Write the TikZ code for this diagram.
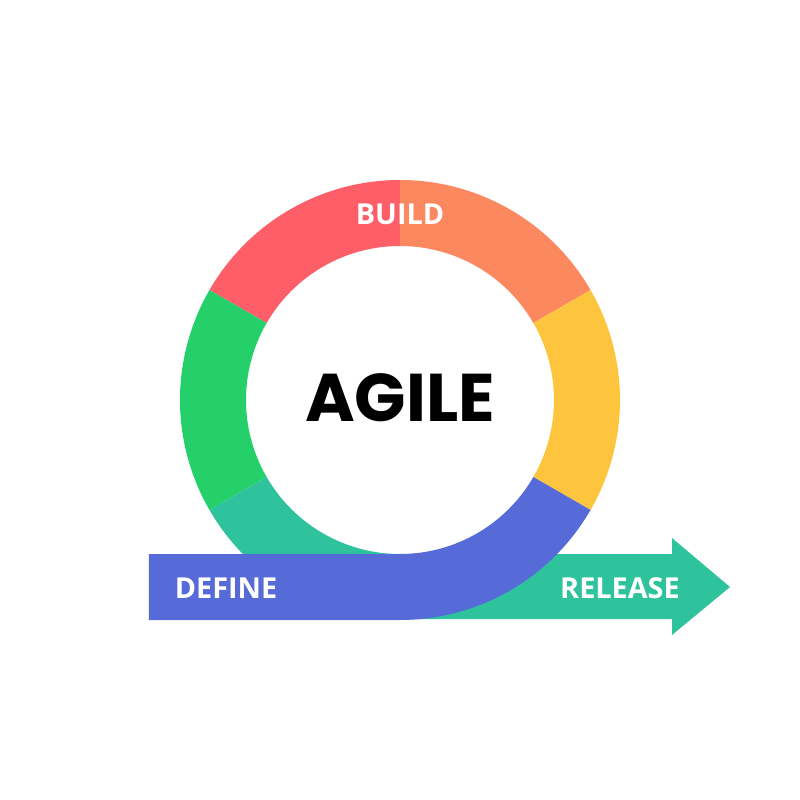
\documentclass[tikz,border=0pt]{standalone}
\usepackage{fontspec}
\setmainfont{Open Sans}
\newfontfamily\titlefont{Poppins}
\usepackage{tikz}
\usetikzlibrary{positioning}

\definecolor{buildred}{RGB}{253,94,104}
\definecolor{buildorange}{RGB}{252,136,96}
\definecolor{testyellow}{RGB}{253,196,62}
\definecolor{designgreen}{RGB}{37,208,106}
\definecolor{planteal}{RGB}{46,195,157}
\definecolor{defineblue}{RGB}{86,107,216}

\begin{document}
\begin{tikzpicture}
\tikzstyle{phase}=[text=white,font=\bfseries\fontsize{20.5}{21}\selectfont,inner sep=0pt]
\begin{scope}[scale=0.025]
\useasboundingbox (-400,-400) rectangle (400,400);

% release arrow (behind the ring)
\fill[planteal] (0,-154) -- (272,-154) -- (272,-138) -- (330,-187)
  -- (272,-235) -- (272,-219) -- (0,-219) -- cycle;

% ring segments
\fill[buildred] (90:220) arc (90:150:220) -- (150:154) arc (150:90:154) -- cycle;
\fill[buildorange] (30:220) arc (30:90:220) -- (90:154) arc (90:30:154) -- cycle;
\fill[testyellow] (-30:220) arc (-30:30:220) -- (30:154) arc (30:-30:154) -- cycle;
\fill[designgreen] (150:220) arc (150:210:220) -- (210:154) arc (210:150:154) -- cycle;
\fill[planteal] (210:220) arc (210:270:220) -- (270:154) arc (270:210:154) -- cycle;

% define bar running into the ring
\fill[defineblue] (-251,-154) -- (0,-154) arc (270:330:154) -- (330:220)
  arc (330:270:220) -- (-251,-220) -- cycle;

\node (Build) [phase] at (0,186) {BUILD};
\node (Define) [phase] at (-174,-188) {DEFINE};
\node (Release) [phase] at (220,-188) {RELEASE};
\node (Agile) [font=\titlefont\bfseries\fontsize{48}{48}\selectfont,inner sep=0pt]
  at (0,2) {AGILE};
\end{scope}
\end{tikzpicture}
\end{document}
